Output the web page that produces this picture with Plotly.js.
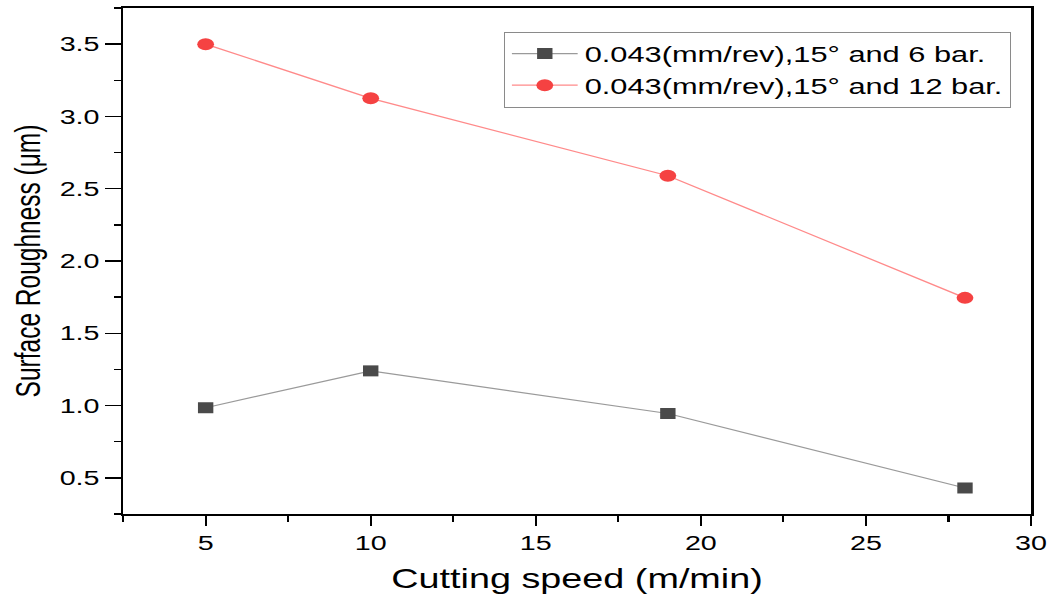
<!DOCTYPE html>
<html>
<head>
<meta charset="utf-8">
<script src="https://cdn.plot.ly/plotly-3.0.1.min.js"></script>
<style>
html,body{margin:0;padding:0;background:#fff;overflow:hidden;width:1052px;height:594px;}
#chart{width:752px;height:594px;transform:scaleX(1.39894);transform-origin:0 0;}
</style>
</head>
<body>
<div id="chart"></div>
<script>
const cuttingSpeed = [5, 10, 19, 28];
const rough6bar = [0.985, 1.24, 0.945, 0.43];
const rough12bar = [3.50, 3.125, 2.59, 1.745];
const name6 = "0.043(mm/rev),15° and 6 bar.";
const name12 = "0.043(mm/rev),15° and 12 bar.";
const xTitle = "Cutting speed (m/min)";
const yTitle = "Surface Roughness (μm)";

const FONT = "Liberation Sans, Arial, sans-serif";

const traces = [
  {
    x: cuttingSpeed, y: rough6bar, name: name6, type: "scatter", mode: "lines+markers",
    line: {color: "#9a9a9a", width: 1.2},
    marker: {symbol: "square", size: 11, color: "#4a4a4a", line: {width: 0}}
  },
  {
    x: cuttingSpeed, y: rough12bar, name: name12, type: "scatter", mode: "lines+markers",
    line: {color: "#ff8a8a", width: 1.2},
    marker: {symbol: "circle", size: 12, color: "#f54242", line: {width: 0}}
  }
];

const axisCommon = {
  showline: true, linecolor: "#000", linewidth: 1.8, mirror: true,
  showgrid: false, zeroline: false, ticks: "outside", tickcolor: "#000", tickwidth: 1.5,
  tickfont: {family: FONT, size: 20.5, color: "#000"}
};

const layout = {
  width: 752, height: 594,
  margin: {l: 88, r: 15, t: 8, b: 80},
  paper_bgcolor: "#fff", plot_bgcolor: "#fff",
  font: {family: FONT, color: "#000"},
  showlegend: true,
  legend: {
    x: 0.419, y: 0.953, xanchor: "left", yanchor: "top",
    bordercolor: "#8a8a8a", borderwidth: 1, bgcolor: "#fff",
    font: {family: FONT, size: 22, color: "#000"},
    itemwidth: 47, tracegroupgap: 0
  },
  xaxis: Object.assign({}, axisCommon, {
    range: [2.5, 30], tick0: 0, dtick: 5, ticklen: 10,
    minor: {dtick: 2.5, tick0: 0, ticks: "outside", ticklen: 6, tickcolor: "#000", tickwidth: 1.5},
    title: {text: xTitle, font: {family: FONT, size: 27, color: "#000"}, standoff: 19}
  }),
  yaxis: Object.assign({}, axisCommon, {
    range: [0.25, 3.75], tick0: 0, dtick: 0.5, ticklen: 11, tickformat: ".1f",
    minor: {dtick: 0.25, tick0: 0, ticks: "outside", ticklen: 5, tickcolor: "#000", tickwidth: 1.5},
    title: {text: yTitle, font: {family: FONT, size: 24.5, color: "#000"}, standoff: 6}
  })
};

Plotly.newPlot("chart", traces, layout, {displayModeBar: false, staticPlot: true});
</script>
</body>
</html>
